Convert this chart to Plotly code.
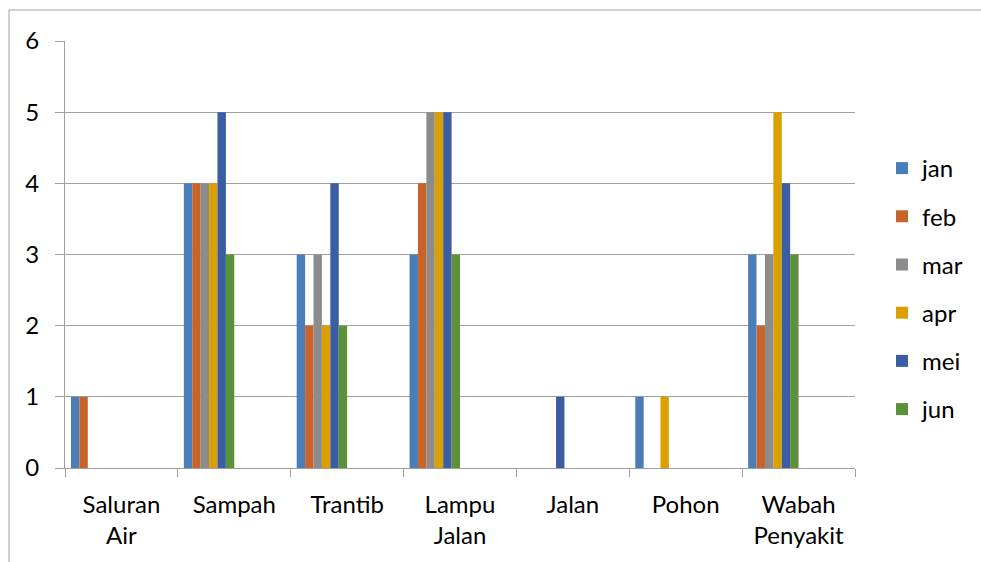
import plotly.graph_objects as go

categories = ["Saluran<br>Air", "Sampah", "Trantib", "Lampu<br>Jalan", "Jalan", "Pohon", "Wabah<br>Penyakit"]
series_names = ["jan", "feb", "mar", "apr", "mei", "jun"]
jan = [1, 4, 3, 3, 0, 1, 3]
feb = [1, 4, 2, 4, 0, 0, 2]
mar = [0, 4, 3, 5, 0, 0, 3]
apr = [0, 4, 2, 5, 0, 1, 5]
mei = [0, 5, 4, 5, 1, 0, 4]
jun = [0, 3, 2, 3, 0, 0, 3]
series_values = [jan, feb, mar, apr, mei, jun]
colors = ["#4A7EBB", "#C8632A", "#8C8C8C", "#D9A000", "#3A5DA4", "#5B9138"]
y_ticks = [0, 1, 2, 3, 4, 5, 6]

W, H = 981, 562
L, R, T, B = 65, 126, 41, 94
pw, ph = W - L - R, H - T - B

bar_w = 0.0745
start = -0.447

fig = go.Figure()
for i, (name, vals, col) in enumerate(zip(series_names, series_values, colors)):
    fig.add_trace(go.Bar(
        x=categories, y=vals, name=name,
        marker=dict(color=col, line=dict(width=0)),
        width=bar_w, offset=start + i * bar_w,
        legendgroup=name,
    ))

grid = "#A0A0A0"
font = "Lato, 'Open Sans', sans-serif"
fig.update_layout(
    width=W, height=H,
    margin=dict(l=L, r=R, t=T, b=B),
    paper_bgcolor="white", plot_bgcolor="white",
    font=dict(family=font, size=24, color="#000000"),
    barmode="overlay",
    showlegend=True,
    legend=dict(x=(882 - L) / pw, xanchor="left", y=(468 - 146) / ph, yanchor="top",
                traceorder="grouped", tracegroupgap=14,
                font=dict(family=font, size=24, color="#000000"),
                bgcolor="rgba(0,0,0,0)"),
    xaxis=dict(type="category", range=[-0.5, 6.5], showgrid=False,
               showline=True, linecolor=grid, linewidth=1,
               ticks="outside", ticklen=8, tickcolor=grid, tickson="boundaries",
               ticklabelstandoff=15,
               tickfont=dict(family=font, size=24, color="#000000")),
    yaxis=dict(range=[0, 6], tickvals=y_ticks, showgrid=True, gridcolor=grid, gridwidth=1,
               showline=True, linecolor=grid, linewidth=1, zeroline=False,
               ticks="outside", ticklen=9, tickcolor=grid, ticklabelstandoff=11,
               tickfont=dict(family=font, size=24, color="#000000")),
    shapes=[dict(type="rect", xref="paper", yref="paper",
                 x0=(9 - L) / pw, x1=(W + 5 - L) / pw,
                 y0=(468 - (H + 5)) / ph, y1=(468 - 10) / ph,
                 line=dict(color=grid, width=1), fillcolor="rgba(0,0,0,0)", layer="below")],
)

fig.write_html("out.html", config={"displayModeBar": False},
               post_script="document.body.style.margin='0';document.body.style.overflow='hidden';")
